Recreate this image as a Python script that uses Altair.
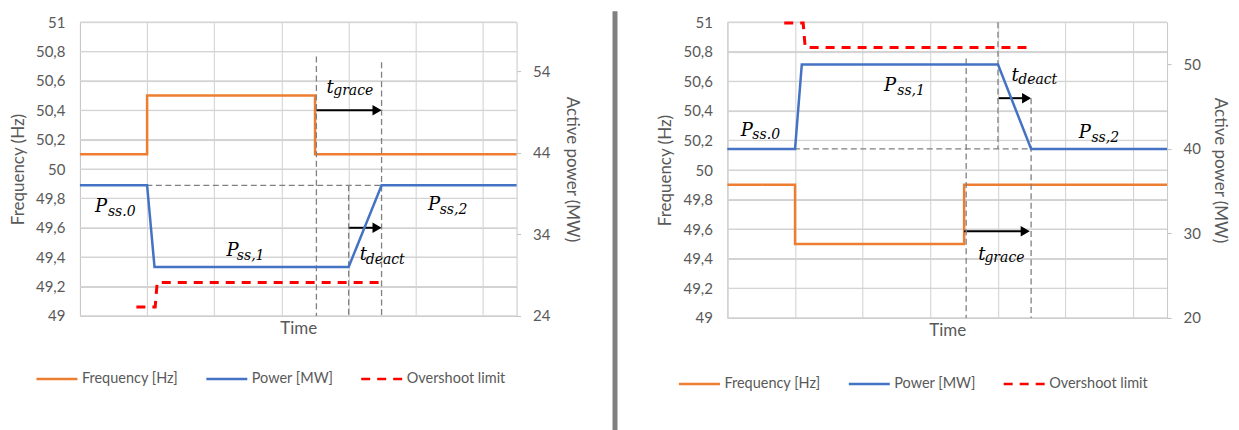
import altair as alt
import pandas as pd

# ---------------- data ----------------
series_names = ["Frequency [Hz]", "Power [MW]", "Overshoot limit"]
series_colors = ["#ED7D31", "#4472C4", "#FF0000"]
series_dash = [[1, 0], [1, 0], [9, 7]]

hz_ticks = [49.0, 49.2, 49.4, 49.6, 49.8, 50.0, 50.2, 50.4, 50.6, 50.8, 51.0]
time_grid = [0, 1, 2, 3, 4, 5, 6]
time_domain = [0, 6.5]

# left panel (over-frequency)
a_t_freq = [0, 1, 1, 3.5, 3.5, 6.5]
a_freq = [50.1, 50.1, 50.5, 50.5, 50.1, 50.1]
a_t_pow = [0, 1.0, 1.11, 4.0, 4.49, 6.5]
a_pow = [40, 40, 30, 30, 40, 40]
a_t_os = [0.84, 1.12, 1.15, 4.5]
a_os = [25.1, 25.1, 28.1, 28.1]
a_mw_ticks = [24, 34, 44, 54]
a_mw_domain = [24, 60]
a_guide_t = [0, 3.52, 4.49, 4.0]
a_guide_t2 = [6.5, 3.52, 4.49, 4.0]
a_guide_y = [40, 55.8, 55.1, 40]
a_guide_y2 = [40, 24, 24, 24]
a_arrow_t = [3.52, 4.0]
a_arrow_t2 = [4.49, 4.49]
a_arrow_y = [50.4, 49.6]
a_lab_text = ["P", "ss.0", "P", "ss,1", "P", "ss,2", "t", "grace", "t", "deact"]
a_lab_kind = ["main", "sub"] * 5
a_lab_t = [0.223, 0.416, 2.18, 2.335, 5.18, 5.355, 3.67, 3.77, 4.165, 4.254]
a_lab_y = [49.707, 49.68, 49.408, 49.384, 49.723, 49.697, 50.52, 50.507, 49.383, 49.354]

# right panel (under-frequency)
b_t_freq = [0, 1, 1, 3.5, 3.5, 6.5]
b_freq = [49.9, 49.9, 49.5, 49.5, 49.9, 49.9]
b_t_pow = [0, 1.0, 1.1, 4.0, 4.49, 6.5]
b_pow = [40, 40, 50, 50, 40, 40]
b_t_os = [0.84, 1.12, 1.15, 4.52]
b_os = [54.9, 54.9, 52, 52]
b_mw_ticks = [20, 30, 40, 50]
b_mw_domain = [20, 55]
b_guide_t = [0, 3.53, 4.0, 4.49]
b_guide_t2 = [6.5, 3.53, 4.0, 4.49]
b_guide_y = [40, 50.7, 55, 46]
b_guide_y2 = [40, 20, 40, 20]
b_arrow_t = [4.01, 3.5]
b_arrow_t2 = [4.49, 4.47]
b_arrow_y = [50.486, 49.586]
b_lab_text = ["P", "ss.0", "P", "ss,1", "t", "deact", "P", "ss,2", "t", "grace"]
b_lab_kind = ["main", "sub"] * 5
b_lab_t = [0.198, 0.369, 2.315, 2.511, 4.20, 4.30, 5.195, 5.382, 3.707, 3.80]
b_lab_y = [50.232, 50.209, 50.532, 50.509, 50.601, 50.581, 50.216, 50.193, 49.394, 49.378]

FONT = "Lato"
TXT = "#595959"
GRID = "#d0d0d0"


def sdf(t, v, name):
    return pd.DataFrame({"t": t, "v": v, "series": name, "i": list(range(len(t)))})


def panel(p, width, height, legx, legy, mw_title_pad, separator):
    xs = alt.Scale(domain=time_domain, nice=False, zero=False)
    hz = alt.Scale(domain=[49, 51], nice=False, zero=False)
    mw = alt.Scale(domain=p["mw_domain"], nice=False, zero=False)
    leg = alt.Legend(orient="none", legendX=legx, legendY=legy, direction="horizontal",
                     columns=3, title=None, symbolType="stroke", symbolSize=1681,
                     symbolStrokeWidth=2.5, labelFont=FONT, labelFontSize=14.5,
                     labelColor=TXT, labelOffset=3, columnPadding=22, labelLimit=300)
    color = alt.Color("series:N", scale=alt.Scale(domain=series_names, range=series_colors), legend=leg)
    dash = alt.StrokeDash("series:N", scale=alt.Scale(domain=series_names, range=series_dash), legend=leg)

    x_axis = alt.Axis(values=time_grid, labels=False, ticks=False, grid=True, domain=True,
                      title="Time", titlePadding=5)
    hz_axis = alt.Axis(orient="left", values=hz_ticks, grid=True, ticks=False,
                       labelPadding=15, title="Frequency (Hz)", titlePadding=8,
                       labelExpr="replace(format(datum.value, '.1~f'), '.', ',')")
    mw_axis = alt.Axis(orient="right", values=p["mw_ticks"], grid=False, ticks=True, tickSize=4,
                       labelPadding=12, title="Active power (MW)", titlePadding=mw_title_pad)

    X = lambda f: alt.X(f, scale=xs, axis=x_axis)
    YH = lambda f: alt.Y(f, scale=hz, axis=hz_axis)
    YM = lambda f: alt.Y(f, scale=mw, axis=mw_axis)

    # ---- layer on the frequency (left) axis
    grid_rows = [{"gt": tt, "g": gg} for gg in hz_ticks for tt in time_domain]
    hgrid = alt.Chart(pd.DataFrame(grid_rows)).mark_line(color="#d4d4d4", strokeWidth=1.3).encode(
        x=X("gt:Q"), y=YH("g:Q"), detail="g:N")
    freq = alt.Chart(sdf(p["t_freq"], p["freq"], series_names[0])).mark_line(strokeWidth=2.5).encode(
        x=X("t:Q"), y=YH("v:Q"), color=color, strokeDash=dash, order="i:Q")

    arrows_df = pd.DataFrame({"t": p["arrow_t"], "t2": p["arrow_t2"], "y": p["arrow_y"]})
    arrow_line = alt.Chart(arrows_df).mark_rule(color="black", strokeWidth=2, x2Offset=-5).encode(
        x=X("t:Q"), x2="t2:Q", y=YH("y:Q"))
    arrow_head = alt.Chart(arrows_df).mark_point(shape="triangle-right", filled=True, size=110,
                                                 color="black", opacity=1, xOffset=-4.5).encode(
        x=X("t2:Q"), y=YH("y:Q"))

    lab_df = pd.DataFrame({"t": p["lab_t"], "y": p["lab_y"], "text": p["lab_text"], "kind": p["lab_kind"]})
    labels = alt.Chart(lab_df).mark_text(font="DejaVu Serif", fontStyle="italic", align="left",
                                         baseline="alphabetic", color="black").encode(
        x=X("t:Q"), y=YH("y:Q"), text="text:N",
        size=alt.Size("kind:N", scale=alt.Scale(domain=["main", "sub"], range=[18, 14]), legend=None))

    hz_layer = alt.layer(hgrid, freq, arrow_line, arrow_head, labels)

    # ---- layer on the power (right) axis
    guide_df = pd.DataFrame({"t": p["guide_t"], "t2": p["guide_t2"], "y": p["guide_y"], "y2": p["guide_y2"]})
    guides = alt.Chart(guide_df).mark_rule(color="#808080", strokeWidth=1.3, strokeDash=[6, 3.5]).encode(
        x=X("t:Q"), x2="t2:Q", y=YM("y:Q"), y2="y2:Q")
    power = alt.Chart(sdf(p["t_pow"], p["pow"], series_names[1])).mark_line(strokeWidth=2.5).encode(
        x=X("t:Q"), y=YM("v:Q"), color=color, strokeDash=dash, order="i:Q")
    over = alt.Chart(sdf(p["t_os"], p["os"], series_names[2])).mark_line(strokeWidth=3).encode(
        x=X("t:Q"), y=YM("v:Q"), color=color, strokeDash=dash, order="i:Q")
    mw_parts = [guides, power, over]
    if separator:
        one = pd.DataFrame({"k": [0]})
        mw_parts.append(alt.Chart(one).mark_rule(color="#808080", strokeWidth=5).encode(
            x=alt.value(535.5), y=alt.value(-11), y2=alt.value(411)))
        mw_parts.append(alt.Chart(one).mark_rule(color="#ffffff", opacity=0, strokeWidth=1).encode(
            x=alt.value(-72), y=alt.value(0), y2=alt.value(5)))
    mw_layer = alt.layer(*mw_parts)

    return alt.layer(hz_layer, mw_layer).resolve_scale(y="independent").properties(
        width=width, height=height)


pa = dict(t_freq=a_t_freq, freq=a_freq, t_pow=a_t_pow, pow=a_pow, t_os=a_t_os, os=a_os,
          mw_ticks=a_mw_ticks, mw_domain=a_mw_domain, guide_t=a_guide_t, guide_t2=a_guide_t2,
          guide_y=a_guide_y, guide_y2=a_guide_y2, arrow_t=a_arrow_t, arrow_t2=a_arrow_t2,
          arrow_y=a_arrow_y, lab_text=a_lab_text, lab_kind=a_lab_kind, lab_t=a_lab_t, lab_y=a_lab_y)
pb = dict(t_freq=b_t_freq, freq=b_freq, t_pow=b_t_pow, pow=b_pow, t_os=b_t_os, os=b_os,
          mw_ticks=b_mw_ticks, mw_domain=b_mw_domain, guide_t=b_guide_t, guide_t2=b_guide_t2,
          guide_y=b_guide_y, guide_y2=b_guide_y2, arrow_t=b_arrow_t, arrow_t2=b_arrow_t2,
          arrow_y=b_arrow_y, lab_text=b_lab_text, lab_kind=b_lab_kind, lab_t=b_lab_t, lab_y=b_lab_y)

left = panel(pa, 437, 294, -45, 335, 13, True)
right = panel(pb, 440, 296, -50, 340, 10, False)

chart = alt.hconcat(left, right, spacing=211, bounds="flush").resolve_scale(
    color="independent", strokeDash="independent"
).properties(
    padding={"left": 0, "top": 0, "right": 2, "bottom": 0}
).configure_view(stroke=None).configure_axis(
    labelFont=FONT, titleFont=FONT, labelFontSize=15, titleFontSize=17,
    labelColor=TXT, titleColor=TXT, titleFontWeight="normal",
    gridColor=GRID, gridWidth=1, domainColor="#c8c8c8", tickColor="#bfbfbf"
)

chart.save("out.html", embed_options={"renderer": "svg", "actions": False})
